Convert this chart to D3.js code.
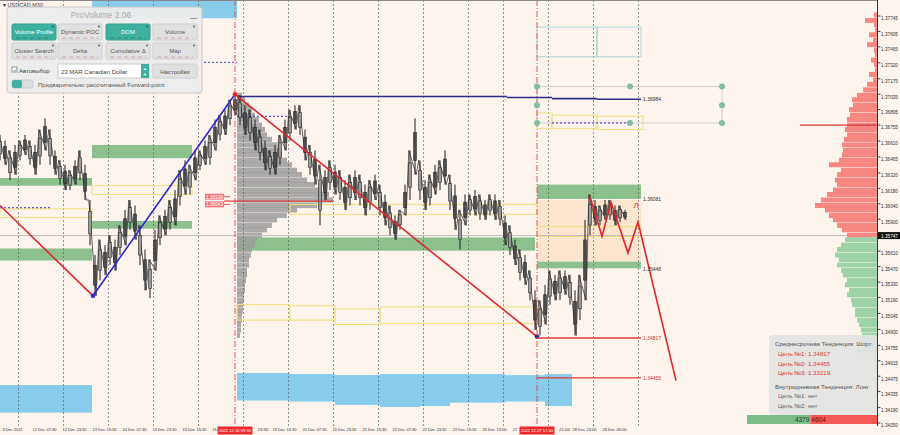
<!DOCTYPE html>
<html><head><meta charset="utf-8">
<script src="https://cdn.jsdelivr.net/npm/d3@7"></script>
<style>
body{margin:0;background:#fdf4ee}
svg{display:block}
text{font-family:"Liberation Sans",Arial,sans-serif}
</style></head>
<body><svg id="c" width="900" height="435"></svg>
<script>
// ---------- DATA ----------
const priceTicks = ["1.37745","1.37605","1.37465","1.37320","1.37175","1.37035","1.36895","1.36755","1.36610","1.36465","1.36320","1.36180","1.36040","1.35900","1.35610","1.35470","1.35330","1.35190","1.35045","1.34900","1.34755","1.34615","1.34475","1.34335","1.34190","1.34050"];
const currentPrice = 1.35747;
const timeLabels = ["9 Dec 2022","12 Dec 07:30","12 Dec 23:30","13 Dec 15:30","14 Dec 07:30","14 Dec 23:30","15 Dec 15:30","16","23:30","19 Dec 15:30","20 Dec 07:30","20 Dec 23:30","21 Dec 15:30","22 Dec 07:30","22 Dec 23:30","23 Dec 15:30","26 Dec 13:00","27","21:00","28 Dec 13:00","29 Dec 05:00"];
const timeLabelPos = [0.4,6.4,12.4,18.4,24.4,30.4,36.4,42.4,51.4,54.4,60.4,66.4,72.4,78.4,84.4,90.4,96.4,102.5,111.7,114.4,120.4];
const timeLabelWidth = [20,24,24,24,24,24,24,4,11,24,24,24,24,24,24,24,24,4,11,24,24];
const gridPos = [3.6,12.6,21.6,30.6,39.6,48.6,57.6,66.6,75.6,84.6,93.6,100.6,109.6,118.6,127.6];
const eventPos = [47, 107.4];
const eventLabels = ["2022.12.16 09:30","2022.12.27 17:30"];

const sampleHigh = [1.3666,1.3661,1.3652,1.3657,1.3661,1.3666,1.3661,1.3657,1.3671,1.3681,
1.3671,1.3652,1.3643,1.3639,1.3634,1.3643,1.3652,1.3639,1.3607,1.3557,
1.3571,1.3566,1.3575,1.3571,1.3584,1.3598,1.3607,1.3602,1.3584,1.3562,
1.3553,1.3580,1.3593,1.3598,1.3607,1.3616,1.3634,1.3643,1.3639,1.3652,
1.3652,1.3661,1.3666,1.3680,1.3684,1.3689,1.3698,1.3703,1.3702,1.3693,
1.3689,1.3680,1.3671,1.3661,1.3652,1.3657,1.3666,1.3680,1.3689,1.3693,
1.3693,1.3671,1.3657,1.3652,1.3639,1.3634,1.3643,1.3639,1.3634,1.3625,
1.3630,1.3634,1.3630,1.3621,1.3625,1.3630,1.3621,1.3612,1.3602,1.3593,
1.3598,1.3621,1.3652,1.3681,1.3643,1.3625,1.3630,1.3639,1.3643,1.3652,
1.3630,1.3621,1.3598,1.3612,1.3612,1.3616,1.3612,1.3607,1.3612,1.3612,
1.3607,1.3593,1.3584,1.3571,1.3562,1.3557,1.3543,1.3525,1.3516,1.3530,
1.3543,1.3539,1.3543,1.3543,1.3539,1.3525,1.3539,1.3589,1.3612,1.3607,
1.3602,1.3607,1.3607,1.3602,1.3602,1.3598];
const sampleLow = [1.3643,1.3639,1.3625,1.3630,1.3643,1.3648,1.3639,1.3630,1.3639,1.3652,
1.3639,1.3630,1.3621,1.3616,1.3616,1.3621,1.3625,1.3607,1.3566,1.3520,
1.3534,1.3539,1.3548,1.3543,1.3557,1.3566,1.3580,1.3571,1.3548,1.3525,
1.3518,1.3543,1.3566,1.3575,1.3580,1.3584,1.3602,1.3612,1.3612,1.3625,
1.3634,1.3639,1.3639,1.3652,1.3661,1.3666,1.3675,1.3684,1.3675,1.3666,
1.3661,1.3652,1.3643,1.3634,1.3630,1.3630,1.3639,1.3652,1.3661,1.3671,
1.3666,1.3643,1.3630,1.3621,1.3584,1.3607,1.3616,1.3612,1.3607,1.3598,
1.3602,1.3607,1.3602,1.3593,1.3598,1.3607,1.3593,1.3584,1.3575,1.3571,
1.3580,1.3593,1.3607,1.3630,1.3607,1.3598,1.3602,1.3612,1.3616,1.3621,
1.3598,1.3580,1.3562,1.3584,1.3593,1.3593,1.3589,1.3589,1.3593,1.3589,
1.3584,1.3566,1.3557,1.3548,1.3534,1.3530,1.3516,1.3489,1.3484,1.3494,
1.3512,1.3516,1.3516,1.3521,1.3512,1.3484,1.3498,1.3516,1.3575,1.3584,
1.3584,1.3589,1.3589,1.3584,1.3587,1.3589];

const zigzagPos = [0, 18.6, 47, 107.4];
const zigzagPrice = [1.3602, 1.3520, 1.3703, 1.3483];
const zigzagColor = ["#e3262b", "#2a2ad0", "#e3262b"];
const forecastPos = [118, 120.4, 122.2, 125.6, 127.6, 135.2];
const forecastPrice = [1.3610, 1.3574, 1.3605, 1.3559, 1.3587, 1.3443];

const greenZones = [
 {x0:0,x1:18.4,p0:1.3627,p1:1.3620},{x0:18.4,x1:38.4,p0:1.3657,p1:1.3645},
 {x0:0,x1:18.4,p0:1.3563,p1:1.3552},{x0:18.4,x1:38.4,p0:1.3588,p1:1.3581},
 {x0:47.4,x1:107,p0:1.3573,p1:1.3561},{x0:107.4,x1:128.2,p0:1.3621,p1:1.3608},
 {x0:107.4,x1:128.2,p0:1.3551,p1:1.3545}];
const blueZones = [
 {x0:18.4,x1:47.4,p0:1.3795,p1:1.3772},{x0:0,x1:18.4,p0:1.3439,p1:1.3414},
 {x0:47.4,x1:58,p0:1.3450,p1:1.3425},{x0:58,x1:67,p0:1.3449,p1:1.3424},
 {x0:67,x1:76,p0:1.3448,p1:1.3421},{x0:76,x1:84,p0:1.3449,p1:1.3419},
 {x0:84,x1:90,p0:1.3449,p1:1.3420},{x0:90,x1:101,p0:1.3449,p1:1.3423},
 {x0:101,x1:109,p0:1.3448,p1:1.3424},{x0:109,x1:114.4,p0:1.3449,p1:1.3420}];
const yellowZones = [
 {x0:0,x1:18.4,p0:1.3599,p1:1.3591},{x0:18.4,x1:38.4,p0:1.3620,p1:1.3612},
 {x0:47.4,x1:58,p0:1.3512,p1:1.3498},{x0:58,x1:67,p0:1.3511,p1:1.3498},
 {x0:67,x1:76,p0:1.3508,p1:1.3494},{x0:76,x1:107.4,p0:1.3510,p1:1.3495},
 {x0:58,x1:107.4,p0:1.3603,p1:1.3594},{x0:107.4,x1:128.2,p0:1.3583,p1:1.3574},
 {x0:107.4,x1:110.4,p0:1.3686,p1:1.3672},{x0:110.4,x1:119.4,p0:1.3684,p1:1.3672},
 {x0:119.4,x1:128.6,p0:1.3683,p1:1.3671}];
const orangeZone = [{x0:107.4,x1:128.2,p0:1.3607,p1:1.3551}];
const navyLine = [{x0:47.4,x1:101.4,p:1.3701},{x0:101.4,x1:110.4,p:1.3700},{x0:110.4,x1:119.4,p:1.3699},{x0:119.4,x1:128.2,p:1.36984}];
const dottedLines = [{x0:29.6,x1:38.4,p:1.3736},{x0:38.4,x1:47.4,p:1.3732},{x0:47.4,x1:58,p:1.3683},{x0:110.4,x1:126,p:1.3677},{x0:0,x1:10,p:1.3600}];
const targetLevels = [1.34817, 1.34455];
const zoneLabels = [{x:128.6,p:1.36984,t:"1.36984",c:"#333"},{x:128.6,p:1.36081,t:"1.36081",c:"#333"},{x:128.6,p:1.35448,t:"1.35448",c:"#333"},{x:128.6,p:1.34817,t:"1.34817",c:"#c33"},{x:128.6,p:1.34455,t:"1.34455",c:"#c33"}];
const tealBoxes = [{x0:107.4,x1:119.4,p0:1.3764,p1:1.3737},{x0:119.4,x1:128.2,p0:1.3764,p1:1.3737}];
const dotPos = [107.4,107.4,107.4,126,126,144.4,144.4,144.4];
const dotPrice = [1.3710,1.3693,1.3677,1.3710,1.3677,1.3710,1.3693,1.3677];

const profileLevels = [1.3775,1.3770,1.3766,1.3761,1.3757,1.3752,1.3748,1.3743,1.3739,1.3734,
1.3730,1.3725,1.3721,1.3716,1.3712,1.3707,1.3702,1.3698,1.3693,1.3689,
1.3684,1.3680,1.3675,1.3671,1.3666,1.3662,1.3657,1.3652,1.3648,1.3643,
1.3639,1.3634,1.3630,1.3625,1.3621,1.3616,1.3612,1.3607,1.3602,1.3598,
1.3593,1.3589,1.3584,1.3580,1.3575,1.3571,1.3566,1.3562,1.3557,1.3553,
1.3548,1.3543,1.3539,1.3534,1.3530,1.3525,1.3521,1.3516,1.3512,1.3507,
1.3503,1.3498,1.3494,1.3489,1.3484,1.3480,1.3475,1.3471,1.3466,1.3462,
1.3457,1.3453,1.3448,1.3444,1.3439,1.3435,1.3430];
const rightVolumes = [3,12,3,2,8,4,10,3,2,6,
3,2,8,4,10,14,20,25,24,28,
27,30,30,32,30,33,35,34,35,38,
48,36,40,42,40,44,50,56,62,52,
48,44,40,35,30,32,36,40,42,38,
40,36,34,30,32,28,30,26,25,22,
22,20,18,16,15,14,12,20,6,3,
2,2,1,4,1,1,3];
const rightPOC = 1.3675, rightPOCVolume = 77;
const centerVolumes = [0,0,0,0,0,0,0,0,0,0,0,0,0,0,0,0,
5,8,12,15,18,22,25,28,30,35,40,42,45,50,55,60,65,70,78,85,92,96,80,60,50,40,35,30,25,20,18,15,14,12,12,10,10,9,8,8,7,7,6,6,5,5,4,4,3];
const centerStart = 47.4;
const centerPOC = 1.3606, centerPOCFrom = 44.8, centerPOCTo = 66.6;
const centerPOCLabels = [{p:1.3610,t:"1.36119"},{p:1.3603,t:"1.36043"}];
const buyVolume = 4379, sellVolume = 4604;

// ---------- SETUP ----------
const svg = d3.select("#c");
const plotR = 877, plotB = 426;
const x = d3.scaleLinear().domain([0, 175.4]).range([0, plotR]);
const y = d3.scaleLinear().domain([1.34050, 1.37745]).range([422.5, 15.5]);
const vol = d3.scaleLinear().domain([0, 1]).range([0, 1]);

svg.append("rect").attr("width",900).attr("height",435).attr("fill","#fdf4ee");
svg.append("defs").append("clipPath").attr("id","clip").append("rect").attr("x",0).attr("y",0).attr("width",plotR).attr("height",plotB);
const g = svg.append("g").attr("clip-path","url(#clip)");

function zoneRects(data, fill, stroke, op){
  g.append("g").selectAll("rect").data(data).join("rect")
   .attr("x", d=>x(d.x0)).attr("width", d=>x(d.x1)-x(d.x0))
   .attr("y", d=>y(d.p0)).attr("height", d=>y(d.p1)-y(d.p0))
   .attr("fill", fill).attr("fill-opacity", op).attr("stroke", stroke).attr("stroke-width",1);
}
zoneRects(blueZones, "#87ccea", "none", 1);
zoneRects(orangeZone, "#fbd9b4", "none", 0.55);
zoneRects(greenZones, "#86bd88", "none", 0.95);

// center gray profile
const centerData = profileLevels.map((p,i)=>({p, v:centerVolumes[i]||0})).filter(d=>d.v>0);
g.append("g").selectAll("rect").data(centerData).join("rect")
 .attr("x", x(centerStart)).attr("y", d=>y(d.p)-2.6).attr("height",5.2)
 .attr("width", d=>vol(d.v)).attr("fill","#9c9c9c").attr("fill-opacity",0.85);

// grid
g.append("g").selectAll("line").data(gridPos).join("line")
 .attr("x1",d=>Math.round(x(d))+0.5).attr("x2",d=>Math.round(x(d))+0.5).attr("y1",0).attr("y2",plotB)
 .attr("stroke","#555").attr("stroke-width",0.8).attr("stroke-dasharray","2,2").attr("opacity",0.75);

zoneRects(yellowZones, "none", "#f1df7a", 1);
zoneRects(tealBoxes, "none", "#a9d6d6", 1);

// gray rect with dots
g.append("rect").attr("x",x(107.4)).attr("width",x(144.4)-x(107.4)).attr("y",y(1.3710)).attr("height",y(1.3677)-y(1.3710))
 .attr("fill","none").attr("stroke","#cfcfcf");

// current price line
g.append("line").attr("x1",0).attr("x2",plotR).attr("y1",y(currentPrice)).attr("y2",y(currentPrice)).attr("stroke","#bdbdbd");

// navy line
g.append("g").selectAll("line").data(navyLine).join("line")
 .attr("x1",d=>x(d.x0)).attr("x2",d=>x(d.x1)).attr("y1",d=>y(d.p)).attr("y2",d=>y(d.p))
 .attr("stroke","#2d2f86").attr("stroke-width",1.6);
g.append("g").selectAll("line").data(dottedLines).join("line")
 .attr("x1",d=>x(d.x0)).attr("x2",d=>x(d.x1)).attr("y1",d=>y(d.p)).attr("y2",d=>y(d.p))
 .attr("stroke","#3a3ad0").attr("stroke-width",1).attr("stroke-dasharray","2,2");

// candles
const candles = sampleHigh.map((h,i)=>({i, h, l:sampleLow[i]}));
const cg = g.append("g");
cg.append("path").datum(candles).attr("fill","none").attr("stroke","#3a3a3a").attr("stroke-width",0.8)
 .attr("d", d3.line().x((d,i)=>x(d.i)+(i%2?1.2:-1.2)).y((d,i)=>i%2?y(d.l):y(d.h)));
cg.selectAll("line").data(candles).join("line")
 .attr("x1",d=>x(d.i)).attr("x2",d=>x(d.i)).attr("y1",d=>y(d.h)).attr("y2",d=>y(d.l))
 .attr("stroke","#1c1c1c").attr("stroke-width",1);
cg.selectAll("rect").data(candles).join("rect")
 .attr("x",d=>x(d.i)-1.3).attr("width",2.6)
 .attr("y",d=>y(d.h)+(y(d.l)-y(d.h))*0.25).attr("height",d=>(y(d.l)-y(d.h))*0.5)
 .attr("fill",(d,i)=>i%2?"#4a4a4a":"#9a9a9a").attr("stroke","#1e1e1e").attr("stroke-width",0.6);

// center POC
g.append("line").attr("x1",x(centerPOCFrom)).attr("x2",x(centerPOCTo)).attr("y1",y(centerPOC)).attr("y2",y(centerPOC)).attr("stroke","#d84040").attr("stroke-width",1.3);
centerPOCLabels.forEach(d=>{
  g.append("rect").attr("x",x(41)).attr("y",y(d.p)-3).attr("width",x(44.8)-x(41)).attr("height",6).attr("fill","#f27a7a");
  g.append("text").attr("x",x(41)+1).attr("y",y(d.p)+2).attr("font-size",4.8).attr("fill","#fff").attr("textLength",17).attr("lengthAdjust","spacingAndGlyphs").text(d.t);
  g.append("line").attr("x1",x(44.8)).attr("x2",x(46)).attr("y1",y(d.p)).attr("y2",y(d.p)).attr("stroke","#e05050");
});

// zigzag
for(let i=0;i<zigzagPos.length-1;i++){
  g.append("line").attr("x1",x(zigzagPos[i])).attr("y1",y(zigzagPrice[i])).attr("x2",x(zigzagPos[i+1])).attr("y2",y(zigzagPrice[i+1]))
   .attr("stroke",zigzagColor[i]).attr("stroke-width",1.6);
}
g.append("path").datum(forecastPos.map((p,i)=>[p,forecastPrice[i]])).attr("fill","none").attr("stroke","#e3262b").attr("stroke-width",1.6)
 .attr("d", d3.line().x(d=>x(d[0])).y(d=>y(d[1])));
g.append("text").attr("x",x(127.2)).attr("y",y(1.3600)).attr("font-size",8).attr("fill","#e3262b").attr("text-anchor","middle").text("Л");

// pivot dots
g.append("circle").attr("cx",x(zigzagPos[1])).attr("cy",y(zigzagPrice[1])).attr("r",2.3).attr("fill","#2a2ad0");
g.append("circle").attr("cx",x(zigzagPos[2])).attr("cy",y(zigzagPrice[2])).attr("r",2.3).attr("fill","#e3262b");
g.append("circle").attr("cx",x(zigzagPos[3])).attr("cy",y(zigzagPrice[3])).attr("r",2.3).attr("fill","#2a2a9a");

// event lines
g.append("g").selectAll("line").data(eventPos).join("line")
 .attr("x1",d=>x(d)).attr("x2",d=>x(d)).attr("y1",0).attr("y2",plotB)
 .attr("stroke","#e0393b").attr("stroke-width",1).attr("stroke-dasharray","6,2,1,2").attr("opacity",0.8);

// target levels
g.append("g").selectAll("line").data(targetLevels).join("line")
 .attr("x1",x(107.4)).attr("x2",x(128.2)).attr("y1",d=>y(d)).attr("y2",d=>y(d)).attr("stroke","#e03a3a").attr("stroke-width",1.3);
g.append("g").selectAll("text").data(zoneLabels).join("text")
 .attr("x",d=>x(d.x)).attr("y",d=>y(d.p)+2).attr("font-size",5).attr("fill",d=>d.c).text(d=>d.t);

// dots
g.append("g").selectAll("circle").data(dotPos).join("circle")
 .attr("cx",d=>x(d)).attr("cy",(d,i)=>y(dotPrice[i])).attr("r",3).attr("fill","#86bca4");

// right profile
const rightData = profileLevels.map((p,i)=>({p, v:rightVolumes[i]}));
g.append("g").selectAll("rect").data(rightData).join("rect")
 .attr("x",d=>plotR-vol(d.v)).attr("width",d=>vol(d.v)).attr("y",d=>y(d.p)-2.5).attr("height",5)
 .attr("fill",d=>d.p>=currentPrice?"#f7877f":"#9dd3a6");
g.append("line").attr("x1",plotR-vol(rightPOCVolume)).attr("x2",plotR).attr("y1",y(rightPOC)).attr("y2",y(rightPOC)).attr("stroke","#d23b3b").attr("stroke-width",1.2);

// info panel
const info = svg.append("g");
info.append("rect").attr("x",769).attr("y",335).attr("width",108).attr("height",80).attr("rx",3).attr("fill","#e3e3e3").attr("fill-opacity",0.93);
const infoLines = [["Среднесрочная Тенденция: Шорт",775,344,"#555"],["Цель №1: 1.34817",778,354,"#e0393b"],["Цель №2: 1.34455",778,363.5,"#e0393b"],["Цель №3: 1.33219",778,373,"#e0393b"],["Внутридневная Тенденция: Лонг",775,386.5,"#555"],["Цель №1: нет",778,396,"#666"],["Цель №2: нет",778,405.5,"#666"]];
info.selectAll("text").data(infoLines).join("text").attr("x",d=>d[1]).attr("y",d=>d[2]+2).attr("font-size",6.2).attr("fill",d=>d[3]).text(d=>d[0]);

// bottom volume bar
const bv = d3.scaleLinear().domain([0, buyVolume+sellVolume]).range([0,130]);
const bx0 = plotR - bv(buyVolume+sellVolume);
svg.append("rect").attr("x",bx0).attr("y",415).attr("width",bv(buyVolume)).attr("height",9).attr("fill","#7dbd8c");
svg.append("rect").attr("x",bx0+bv(buyVolume)).attr("y",415).attr("width",bv(sellVolume)).attr("height",9).attr("fill","#f25a55");
svg.append("text").attr("x",bx0+bv(buyVolume)-1).attr("y",422).attr("text-anchor","end").attr("font-size",6.5).attr("fill","#333").text(buyVolume);
svg.append("text").attr("x",bx0+bv(buyVolume)+1).attr("y",422).attr("font-size",6.5).attr("fill","#7a1010").text(sellVolume);

// axes
const ya = svg.append("g").attr("transform",`translate(${plotR},0)`)
 .call(d3.axisRight(y).tickValues(priceTicks.map(Number)).tickFormat((d,i)=>priceTicks[i]).tickSize(3).tickPadding(1));
ya.select(".domain").attr("stroke","#333").attr("d","M0.5,0V"+plotB);
ya.selectAll(".tick line").attr("stroke","#444").attr("transform","translate(0.5,0)");
ya.selectAll(".tick text").attr("font-family","Liberation Sans").attr("font-size",5.2).attr("fill","#333")
 .attr("dy","0.35em").attr("transform","translate(0,2.5)").attr("textLength",17).attr("lengthAdjust","spacingAndGlyphs");
// current price box
svg.append("rect").attr("x",878).attr("y",y(currentPrice)-3.5).attr("width",22).attr("height",7).attr("fill","#111");
svg.append("text").attr("x",881).attr("y",y(currentPrice)+2).attr("font-size",5.2).attr("fill","#fff").attr("textLength",17).attr("lengthAdjust","spacingAndGlyphs").text(currentPrice.toFixed(5));

const xa = svg.append("g").attr("transform",`translate(0,${plotB})`)
 .call(d3.axisBottom(x).tickValues(timeLabelPos).tickFormat((d,i)=>timeLabels[i]).tickSize(0).tickPadding(0));
xa.select(".domain").remove();
xa.selectAll(".tick text").attr("text-anchor","start").attr("font-family","Liberation Sans").attr("font-size",4.2).attr("fill","#333")
 .attr("y",4).attr("dy","0.35em").attr("textLength",(d,i)=>timeLabelWidth[i]).attr("lengthAdjust","spacingAndGlyphs");
const ev = svg.append("g").selectAll("g").data(eventPos).join("g").attr("transform",d=>`translate(${x(d)},${plotB})`);
ev.append("rect").attr("x",-17.5).attr("y",0.5).attr("width",35).attr("height",8).attr("fill","#ee2a2a");
ev.append("text").attr("x",0).attr("y",6.3).attr("text-anchor","middle").attr("font-size",4.3).attr("fill","#fff")
 .attr("textLength",32).attr("lengthAdjust","spacingAndGlyphs").text((d,i)=>eventLabels[i]);

svg.append("line").attr("x1",0).attr("x2",plotR).attr("y1",0.5).attr("y2",0.5).attr("stroke","#888");
svg.append("text").attr("x",3).attr("y",7).attr("font-size",5.5).attr("fill","#333").text("▾ USDCAD,M30");

// ---------- ProVolume panel ----------
const P = svg.append("g");
P.append("rect").attr("x",7).attr("y",7).attr("width",195).attr("height",86).attr("rx",3).attr("fill","#ececec").attr("fill-opacity",0.95).attr("stroke","#cacaca");
P.append("text").attr("x",101).attr("y",18).attr("text-anchor","middle").attr("font-size",8.5).attr("fill","#a9a9a9").text("ProVolume 2.06");
P.append("line").attr("x1",190).attr("x2",197).attr("y1",18.5).attr("y2",18.5).attr("stroke","#999");
const btns = [["Volume Profile",12,24,true],["Dynamic POC",58,24,false],["DOM",106,24,true],["Volume",153,24,false],
 ["Cluster Search",12,43,false],["Delta",58,43,false],["Cumulative Δ",106,43,false],["Map",153,43,false]];
btns.forEach(b=>{
  const bg = P.append("g");
  bg.append("rect").attr("x",b[1]).attr("y",b[2]).attr("width",44).attr("height",16).attr("rx",1.5)
    .attr("fill",b[3]?"#3fb19f":"#e1e1e1").attr("stroke",b[3]?"#36a090":"#cfcfcf");
  bg.append("text").attr("x",b[1]+22).attr("y",b[2]+10).attr("text-anchor","middle").attr("font-size",6)
    .attr("fill",b[3]?"#fff":"#555").text(b[0]);
  bg.append("circle").attr("cx",b[1]+41).attr("cy",b[2]+2.5).attr("r",1).attr("fill",b[3]?"#1b5f55":"#666");
  bg.append("line").attr("x1",b[1]+4).attr("x2",b[1]+40).attr("y1",b[2]+14).attr("y2",b[2]+14)
    .attr("stroke",b[3]?"#2a7f72":"#c99").attr("stroke-width",0.8).attr("stroke-dasharray","4,3");
});
P.append("rect").attr("x",12).attr("y",67).attr("width",5).attr("height",5).attr("fill","#fff").attr("stroke","#999");
P.append("text").attr("x",12.5).attr("y",71.5).attr("font-size",6).attr("fill","#3fb19f").text("✓");
P.append("text").attr("x",19).attr("y",73).attr("font-size",6).attr("fill","#444").text("Автовыбор");
P.append("rect").attr("x",58).attr("y",64).attr("width",91).attr("height",14).attr("fill","#fff").attr("stroke","#ccc");
P.append("text").attr("x",61).attr("y",73.5).attr("font-size",6).attr("fill","#444").text("23 MAR Canadian Dollar");
P.append("rect").attr("x",141).attr("y",64).attr("width",8).attr("height",14).attr("fill","#3fb19f");
P.append("text").attr("x",145).attr("y",70).attr("text-anchor","middle").attr("font-size",4).attr("fill","#fff").text("▲");
P.append("text").attr("x",145).attr("y",76).attr("text-anchor","middle").attr("font-size",4).attr("fill","#fff").text("▼");
P.append("rect").attr("x",153).attr("y",64).attr("width",44).attr("height",14).attr("rx",1.5).attr("fill","#e1e1e1").attr("stroke","#cfcfcf");
P.append("text").attr("x",175).attr("y",73.5).attr("text-anchor","middle").attr("font-size",6).attr("fill","#555").text("Настройки");
P.append("rect").attr("x",12).attr("y",80).attr("width",21).attr("height",8).attr("rx",2).attr("fill","#dedede").attr("stroke","#c8c8c8");
P.append("rect").attr("x",12).attr("y",80).attr("width",10).attr("height",8).attr("rx",2).attr("fill","#3fb19f");
P.append("text").attr("x",38).attr("y",86.5).attr("font-size",6).attr("fill","#555").text("Предварительно рассчитанный Forward-point");
</script></body></html>
